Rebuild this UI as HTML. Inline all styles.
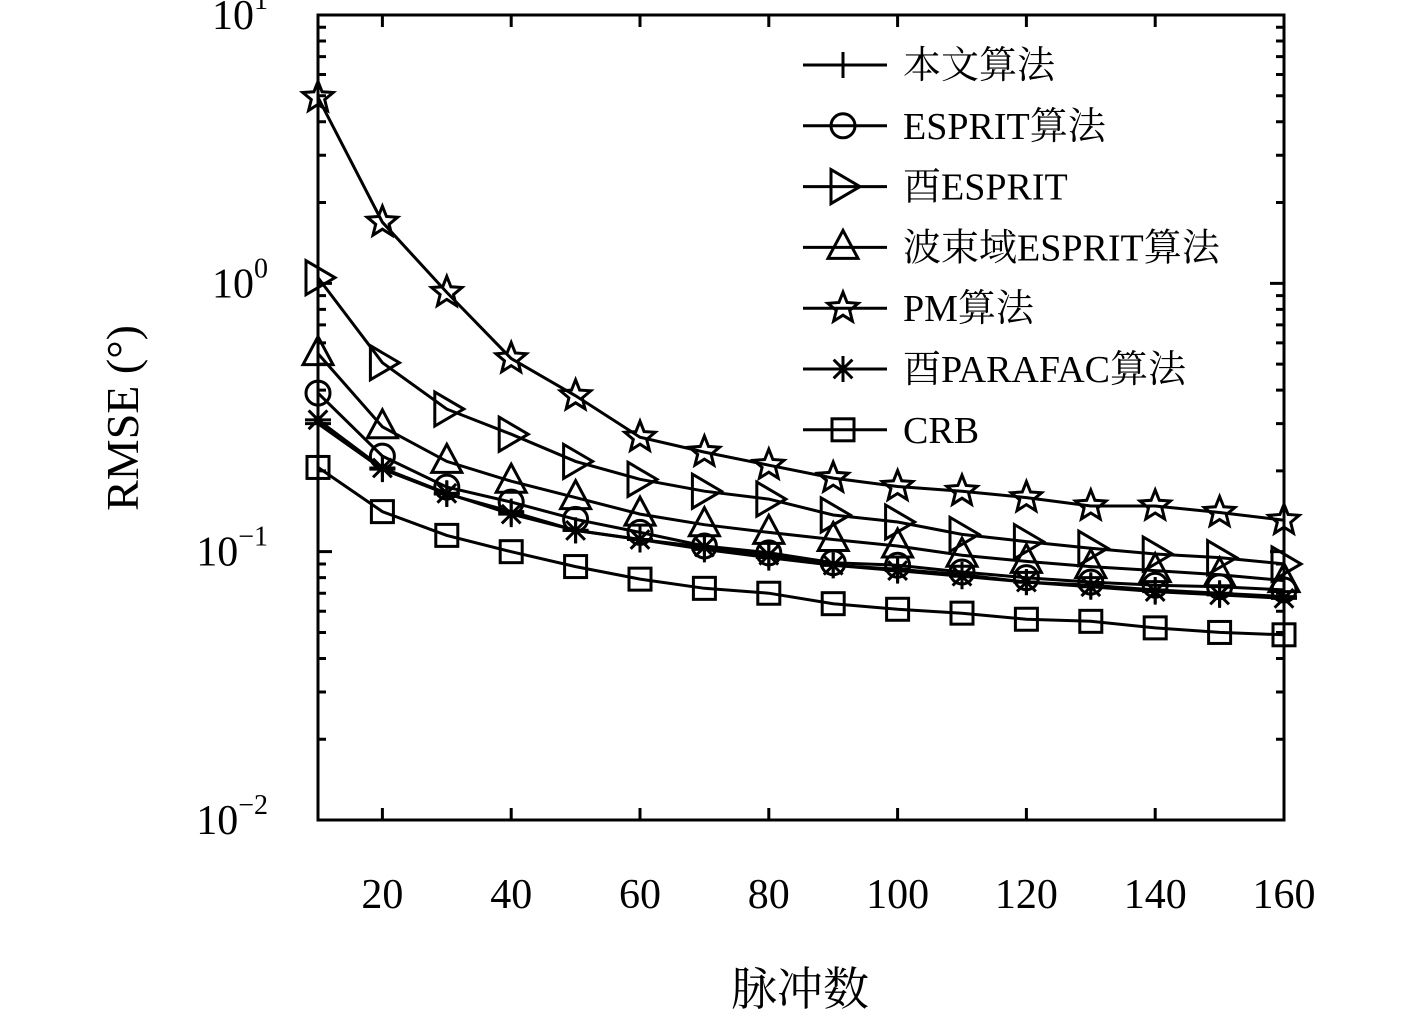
<!DOCTYPE html>
<html><head><meta charset="utf-8"><style>
body{margin:0;background:#fff}
svg text{font-family:"Liberation Serif","Noto Serif CJK SC",serif;fill:#000}
</style></head><body>
<svg id="chart" width="1417" height="1020" xmlns="http://www.w3.org/2000/svg"></svg>
<script>
const xValues=[10,20,30,40,50,60,70,80,90,100,110,120,130,140,150,160];
const xTicks=[20,40,60,80,100,120,140,160];
const yTickExps=[1,0,-1,-2];
const seriesNames=["本文算法","ESPRIT算法","酉ESPRIT","波束域ESPRIT算法","PM算法","酉PARAFAC算法","CRB"];
const seriesMarkers=["plus","circle","tri-right","tri-up","star","asterisk","square"];
const proposed=[0.3,0.203,0.164,0.141,0.12,0.111,0.102,0.095,0.089,0.086,0.082,0.077,0.075,0.072,0.07,0.068];
const esprit=[0.39,0.227,0.174,0.153,0.132,0.118,0.105,0.099,0.091,0.089,0.084,0.08,0.077,0.075,0.074,0.072];
const unitaryEsprit=[1.05,0.506,0.34,0.274,0.217,0.186,0.168,0.157,0.137,0.129,0.116,0.109,0.103,0.098,0.095,0.09];
const beamEsprit=[0.547,0.292,0.217,0.183,0.159,0.138,0.126,0.118,0.111,0.105,0.097,0.092,0.088,0.085,0.082,0.078];
const pm=[4.93,1.69,0.925,0.524,0.381,0.267,0.235,0.21,0.188,0.175,0.168,0.159,0.148,0.148,0.14,0.131];
const parafac=[0.31,0.205,0.165,0.138,0.12,0.111,0.104,0.097,0.089,0.085,0.081,0.077,0.074,0.071,0.069,0.067];
const crb=[0.206,0.141,0.115,0.1,0.088,0.079,0.073,0.07,0.064,0.061,0.059,0.056,0.055,0.052,0.05,0.049];
const seriesData=[proposed,esprit,unitaryEsprit,beamEsprit,pm,parafac,crb];

const NS="http://www.w3.org/2000/svg";
const svg=document.getElementById('chart');
const L=318,R=1284,T=15,B=820;
const xMin=10,xMax=160,yMinE=-2,yMaxE=1;
const X=v=>L+(v-xMin)/(xMax-xMin)*(R-L);
const Y=v=>B-(Math.log10(v)-yMinE)/(yMaxE-yMinE)*(B-T);
function mk(tag,attrs,parent){const e=document.createElementNS(NS,tag);for(const k in attrs)e.setAttribute(k,attrs[k]);(parent||svg).appendChild(e);return e;}

// axes box & ticks
const axes=mk('g',{});


mk('rect',{x:L,y:T,width:R-L,height:B-T,fill:'none',stroke:'#000','stroke-width':3},axes);
let td='';
for(const t of xTicks){const x=X(t);td+=`M${x},${B}v-12M${x},${T}v12`;}
for(let e=yMinE;e<=yMaxE;e++){const y=Y(Math.pow(10,e));td+=`M${L},${y}h14M${R},${y}h-14`;
 if(e<yMaxE)for(let m=2;m<=9;m++){const yy=Y(m*Math.pow(10,e));td+=`M${L},${yy}h8M${R},${yy}h-8`;}}
mk('path',{d:td,stroke:'#000','stroke-width':3,fill:'none'},axes);

for(const t of xTicks){
 const tx=mk('text',{x:X(t),y:908,'font-size':42,'text-anchor':'middle'});
 
 
 tx.textContent=t;
}
for(const e of yTickExps){
 const tx=mk('text',{x:268,y:Y(Math.pow(10,e))+14,'font-size':42,'text-anchor':'end'});
 
 
 tx.textContent='10';
 const sup=mk('tspan',{dy:-20,'font-size':28},tx);sup.textContent=e<0?'−'+(-e):String(e);
}
const xt=mk('text',{x:800,y:1005,'font-size':46,'text-anchor':'middle'});


xt.textContent='脉冲数';
const yt=mk('text',{x:0,y:0,'font-size':46,'text-anchor':'middle',transform:'translate(138,418) rotate(-90)'});


yt.textContent='RMSE (°)';

function marker(type,x,y,g){
 const s=13,st={stroke:'#000','stroke-width':3,fill:'none'};
 const a=(o)=>Object.assign({},st,o);
 if(type==='plus')mk('path',a({d:`M${x-s},${y}h${2*s}M${x},${y-s}v${2*s}`}),g);
 else if(type==='circle')mk('circle',a({cx:x,cy:y,r:12}),g);
 else if(type==='tri-right')mk('path',a({d:`M${x-12},${y-17}L${x+17},${y}L${x-12},${y+17}Z`}),g);
 else if(type==='tri-up')mk('path',a({d:`M${x},${y-17}L${x+15},${y+11}L${x-15},${y+11}Z`}),g);
 else if(type==='square')mk('rect',a({x:x-11,y:y-11,width:22,height:22}),g);
 else if(type==='star'){let d='';for(let i=0;i<10;i++){const r=i%2?7:16,an=-Math.PI/2+i*Math.PI/5;d+=(i?'L':'M')+(x+r*Math.cos(an)).toFixed(1)+','+(y+r*Math.sin(an)).toFixed(1);}mk('path',a({d:d+'Z'}),g);}
 else if(type==='asterisk'){let d=`M${x-s},${y}h${2*s}M${x},${y-s}v${2*s}`;const k=s*0.72;d+=`M${x-k},${y-k}L${x+k},${y+k}M${x-k},${y+k}L${x+k},${y-k}`;mk('path',a({d}),g);}
}

seriesData.forEach((data,i)=>{
 const g=mk('g',{});
 
 
 const d=data.map((v,j)=>(j?'L':'M')+X(xValues[j]).toFixed(1)+','+Y(v).toFixed(1)).join('');
 mk('path',{d,stroke:'#000','stroke-width':3,fill:'none'},g);
 data.forEach((v,j)=>marker(seriesMarkers[i],X(xValues[j]),Y(v),g));
});

// legend
const lg=mk('g',{});


seriesNames.forEach((n,i)=>{
 const y=65+i*60.8;
 const e=mk('g',{},lg);
 
 
 mk('path',{d:`M803,${y}H887`,stroke:'#000','stroke-width':3},e);
 marker(seriesMarkers[i],843,y,e);
 const t=mk('text',{x:903,y:y+13,'font-size':38},e);t.textContent=n;
});
</script>
</body></html>
